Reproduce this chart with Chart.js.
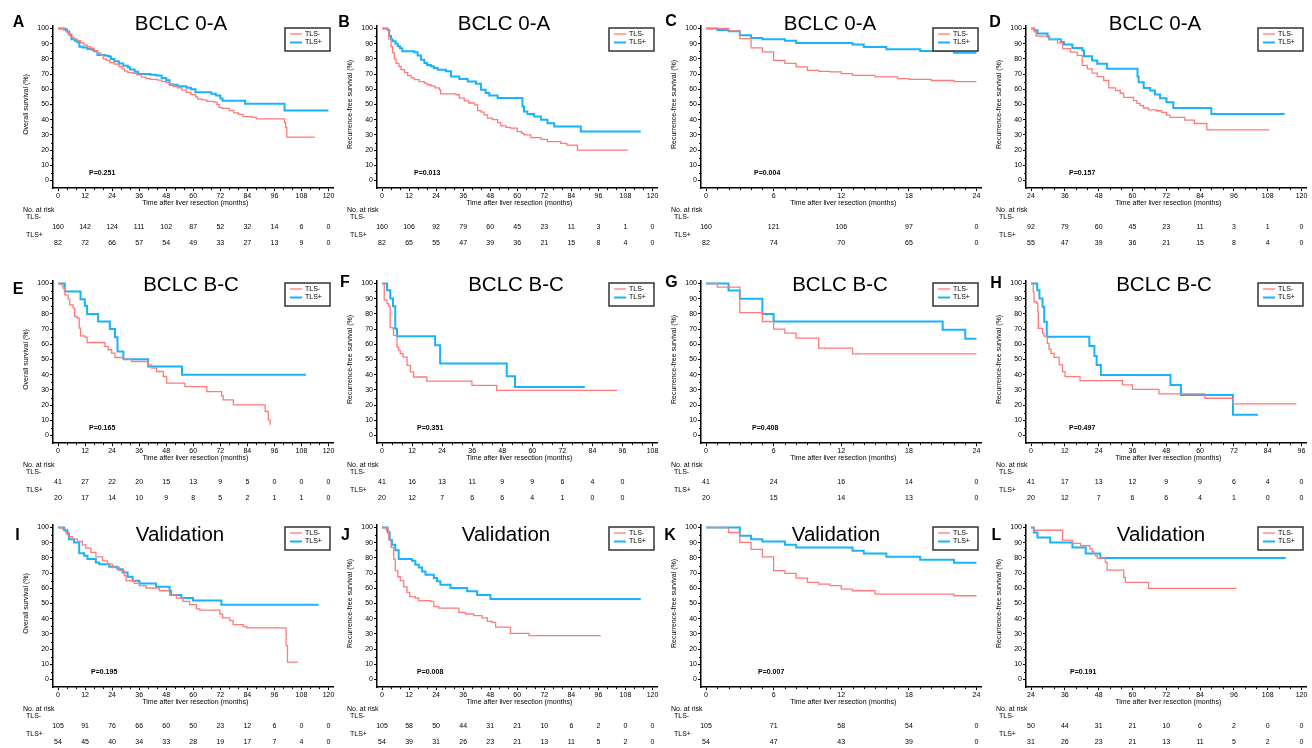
<!DOCTYPE html>
<html>
<head>
<meta charset="utf-8">
<script src="https://cdn.jsdelivr.net/npm/chart.js@4.4.1/dist/chart.umd.min.js"></script>
<style>
html, body { margin: 0; padding: 0; background: #fff; overflow: hidden; }
body { position: relative; width: 1312px; height: 748px; }
.panel { position: absolute; }
</style>
</head>
<body>
<script>
// ---- tick sets (months) ----
const ticks0to120 = [0, 12, 24, 36, 48, 60, 72, 84, 96, 108, 120];
const ticks0to108 = [0, 12, 24, 36, 48, 60, 72, 84, 96, 108];
const ticks0to96 = [0, 12, 24, 36, 48, 60, 72, 84, 96];
const ticks0to24 = [0, 6, 12, 18, 24];
const ticks24to120 = [24, 36, 48, 60, 72, 84, 96, 108, 120];
const yTicks = [0, 10, 20, 30, 40, 50, 60, 70, 80, 90, 100];

// ---- survival curves: [month, survival %] at each step ----
const aNeg = [[0,100],[2.5,99],[3.5,98],[4.5,96],[5.5,94.5],[7,93],[8.5,92],[10,90.5],[11.5,89],[13,88],[14.5,87],[16,85.5],[17.5,84],[19,82.5],[20,80],[21.5,79],[23,77.5],[25,76.5],[27,75],[28.5,73.5],[29.5,72],[31,71],[33,70.5],[35,69.5],[37,68],[39,67],[41,66.5],[44,66],[46,65],[48,64.5],[49.5,63.5],[51,62],[53,61],[55,59.5],[57,58],[59,56.5],[61,55],[62,53.5],[64,53],[66,52],[69,51.5],[70.5,50],[71.5,48],[73,47.5],[76,46],[78,44.5],[80,43.5],[82,42],[86,41.5],[88,40.5],[100.5,38],[101,35],[101.5,28.5],[114,28.5]];
const aPos = [[0,100],[3,99.5],[4,98],[5,96],[6,93],[7.5,92],[8.5,91],[9.5,88],[11,87.5],[13,86.5],[15,86],[16,85],[17.5,82.5],[21,82],[22.5,81.5],[23.5,80],[25,78.5],[27,77],[29,75.5],[31,74.5],[32,73],[34,71.5],[35.5,70],[41,69.5],[43.5,69],[46,67.5],[48,66],[49.5,63],[53,62],[57,61],[59,60],[61,58],[68,57],[70,56],[72,54],[73,52.5],[83,50.5],[100.5,46],[120,46]];
const bNeg = [[0,100],[2.5,99],[3,93],[4,88],[4.7,84],[5.5,80],[6.2,77],[7.5,75],[8.4,73],[10,71],[11.4,69],[13,67.5],[14.3,66.3],[16.5,65],[18.8,64],[20,63],[21.7,62.3],[23.5,61],[25.4,59.7],[26,57],[32.8,56.4],[34.3,54.2],[36.5,52.4],[38.5,51],[41,49.8],[42.4,46],[44,45],[45.3,43.2],[46.8,41],[49,40],[51.3,38.1],[52.7,36],[55,35],[57,34.4],[60,32.2],[62,31],[63,30],[66,28.2],[70.5,27.1],[73.4,25.6],[79.3,24.4],[82,23.3],[86.7,20],[109,20]];
const bPos = [[0,100],[2.5,99],[3.2,95],[4,93],[4.7,91.6],[6,90],[7,88.3],[8,87],[9,85],[14.3,84.4],[15.8,82.2],[17.3,79.5],[18.8,77.3],[20,76],[21.7,75.1],[23,74],[24.7,72.9],[28.4,71.8],[30.6,68.5],[34.3,66.7],[38,65.2],[41.7,63.6],[43.9,59.7],[46,57.5],[47.6,55.9],[51.3,54.2],[62.3,48.7],[63,45.4],[64.5,43.8],[67.5,42.1],[70.5,39.9],[73.4,37.7],[76.4,35.5],[88.2,32.2],[114.8,32.2]];
const cNeg = [[0,100],[2,98.5],[3,93.4],[4,87.2],[5,84.6],[6,79],[7,77],[8,74.7],[9,72.5],[10,71.8],[11,71.4],[12,70.3],[13,69.2],[15,68.2],[17,67],[18,66.5],[20,65.8],[22,65],[24,65]];
const cPos = [[0,100],[1,99],[2,98.2],[3,95.6],[4,93.8],[5,92.9],[7,91.9],[8,90.5],[13,89.4],[14,87.9],[16,86.3],[19,85.2],[22,84],[24,84]];
const dNeg = [[24,100],[25.2,97.8],[25.8,95],[30.5,92.7],[33.4,90.5],[35.2,86.8],[38,84.5],[40.4,82.3],[42.2,75.7],[44,73.5],[45.7,70.6],[47.5,68.4],[49.8,65.8],[51.6,61],[54,59.2],[55.7,57.4],[56.9,54.7],[60.4,52.5],[61.6,50.8],[62.7,49.2],[63.9,47.7],[65.7,46.4],[68.6,45.9],[70.4,44.8],[72.1,43],[73.3,41.5],[78.6,39.7],[82,37.5],[86.4,33.3],[108.5,33.3]];
const dPos = [[24,100],[25.2,98.9],[26.3,96.7],[29.9,94.5],[30.5,92.9],[34.6,91.2],[35.7,89.4],[38.7,87.2],[42.2,85.7],[42.8,81.7],[45.7,79],[47.5,76.8],[51,73.5],[61.8,68.4],[62.2,64.7],[64,60.9],[66.3,59.2],[68,56.5],[69.8,54.1],[72.1,51.4],[74.5,47.7],[88,43.7],[114,43.7]];
const eNeg = [[0,100],[1.5,99],[2.2,97],[3,92.5],[4.5,89.7],[5.2,86],[6.7,83.8],[7.4,78.3],[8.5,77.2],[9.4,70.6],[10,65.6],[11.9,64.7],[12.9,61.2],[20.8,58.6],[22.3,56.4],[23.8,54.2],[25.3,51.3],[29,50.2],[32.6,48.7],[40,46.5],[41.5,44.3],[43.7,42.1],[46.7,38.8],[48.2,34.4],[56.3,32.2],[66,28.9],[72.6,26.1],[73.3,23.5],[77.8,20.2],[91.9,15.8],[93.3,10.3],[94.1,7]];
const ePos = [[0,100],[3,94.7],[10,89.7],[11.9,85.3],[12.9,80],[17.8,75],[23,70],[25.3,64.7],[26.4,55.3],[29,50.2],[40,45.4],[55,39.9],[110,39.9]];
const fNeg = [[0,100],[0.9,89],[2,86.8],[2.7,85],[3.3,71],[4.4,70.3],[4.6,65.9],[6,58.2],[6.6,56],[7.3,53.8],[8.4,51.6],[10,46.2],[11.3,41.8],[12.6,38.5],[17.9,35.8],[35.9,33],[45.8,29.7],[93.9,29.7]];
const fPos = [[0,100],[2,95.6],[3.3,90.1],[4.4,85],[5.3,70.3],[6,65.3],[21.2,59.3],[23.2,47.3],[49.8,38.9],[53.1,31.9],[81,31.9]];
const gNeg = [[0,100],[1,97.6],[3,80.9],[5,75],[6,70],[7,67.3],[8,64],[10,57.5],[13,53.7],[24,53.7]];
const gPos = [[0,100],[2,95.4],[3,89.9],[5,80],[6,75],[21,69.5],[23,63.6],[24,63.6]];
const hNeg = [[0,100],[0.8,94.5],[1.1,88],[2,86.9],[2.4,81.4],[2.6,70.5],[4.1,67.2],[4.6,65.4],[5.8,60.6],[6.4,56.7],[7.1,54],[8.2,51.4],[10,46.4],[11.2,42],[12.1,38.7],[17.4,36.1],[32.5,33.3],[36,30.4],[45.4,27.4],[61.7,24.5],[71.8,20.8],[94.2,20.8]];
const hPos = [[0,100],[2.2,95.6],[3,90.2],[4.1,84.7],[4.7,74.8],[5.6,65],[20.7,58.9],[22.5,52.3],[23.3,46.4],[24.8,39.8],[49.5,33.3],[53.2,26.7],[71.7,13.6],[80.6,13.6]];
const iNeg = [[0,100],[1.9,98.9],[3.4,96.7],[4.9,93.9],[6.4,92.3],[8.6,90.8],[10.8,88.6],[12.3,86.4],[14.6,83.6],[16.8,80.7],[19.8,78.1],[22,75.9],[24.2,73.7],[27.2,71.6],[29.4,68.3],[30.2,65],[33.9,63.2],[36.1,61.7],[39.1,60.2],[45,58.4],[49.5,55.6],[52.5,53.6],[55.4,51.4],[58.4,49.2],[61.4,46.4],[62.9,45.7],[71.8,43.1],[73,40.5],[76.2,38.7],[77.7,36.1],[82.2,34.8],[83.7,33.9],[101.2,22.3],[101.8,11.4],[106.4,11.4]];
const iPos = [[0,100],[2.7,98.2],[4.2,95.6],[4.9,92.3],[7.1,90.2],[9.4,83],[11.6,81.4],[13.1,79.2],[16.8,77],[18.3,75.9],[22.7,74.2],[26.4,72.6],[28.7,70.4],[30.9,67.6],[33.1,65],[36.1,63.2],[43.5,61],[49.5,58.4],[50.2,55.6],[54.7,53.6],[59.9,51.9],[72.5,49.2],[115.6,49.2]];
const jNeg = [[0,100],[1.9,98.2],[3,92.3],[4,86.9],[5.2,79.2],[5.9,71.6],[7,67.6],[8.1,65],[9.6,61],[11.1,57.3],[12.3,54.5],[14.8,53.6],[16.3,51.9],[21.5,51.4],[23,47.9],[25.2,47],[34.1,44.2],[37,43.1],[40.7,42],[44.4,40.5],[46.7,38.3],[48.9,37.6],[50.4,34.4],[57,30.4],[65.2,28.9],[97,28.9]];
const jPos = [[0,100],[2.5,96.7],[3.4,91.7],[4.4,88.6],[5.9,85.1],[7.4,79.2],[13.3,78.1],[14.8,75.5],[16.3,73.7],[17.8,71.1],[19.3,68.9],[23,66.7],[24.4,64.6],[25.9,62.4],[30.4,60.2],[37.8,58],[42.2,55.6],[48.1,53],[114.8,53]];
const kNeg = [[0,100],[2,96.7],[3,90.2],[4,85.6],[5,80.7],[6,71.6],[7,69.8],[8,66.7],[9,63.9],[10,62.8],[11,61.7],[12,59.5],[13,58.4],[15,56.2],[22,55.1],[24,55.1]];
const kPos = [[0,100],[3,94.5],[4,92.3],[5,90.8],[7,88.6],[8,86.9],[13,84.7],[14,82.9],[16,80.7],[19,78.8],[22,76.8],[24,76.8]];
const lNeg = [[24,100],[25,98.2],[35.2,91.7],[38.7,89.5],[41.6,88],[44.9,85.8],[45.7,84.2],[46.3,82.9],[46.9,81.4],[47.5,79.9],[50.4,77],[51,72],[56.9,67.2],[57.5,63.9],[65.7,60],[97,60]];
const lPos = [[24,100],[25,96.7],[26.3,93.4],[30.8,90.2],[38.7,86.9],[43.4,82.9],[48.6,79.9],[114.4,79.9]];

// ---- numbers at risk under each x tick ----
const aRiskNeg = [160, 142, 124, 111, 102, 87, 52, 32, 14, 6, 0];
const aRiskPos = [82, 72, 66, 57, 54, 49, 33, 27, 13, 9, 0];
const bRiskNeg = [160, 106, 92, 79, 60, 45, 23, 11, 3, 1, 0];
const bRiskPos = [82, 65, 55, 47, 39, 36, 21, 15, 8, 4, 0];
const cRiskNeg = [160, 121, 106, 97, 0];
const cRiskPos = [82, 74, 70, 65, 0];
const dRiskNeg = [92, 79, 60, 45, 23, 11, 3, 1, 0];
const dRiskPos = [55, 47, 39, 36, 21, 15, 8, 4, 0];
const eRiskNeg = [41, 27, 22, 20, 15, 13, 9, 5, 0, 0, 0];
const eRiskPos = [20, 17, 14, 10, 9, 8, 5, 2, 1, 1, 0];
const fRiskNeg = [41, 16, 13, 11, 9, 9, 6, 4, 0];
const fRiskPos = [20, 12, 7, 6, 6, 4, 1, 0, 0];
const gRiskNeg = [41, 24, 16, 14, 0];
const gRiskPos = [20, 15, 14, 13, 0];
const hRiskNeg = [41, 17, 13, 12, 9, 9, 6, 4, 0];
const hRiskPos = [20, 12, 7, 6, 6, 4, 1, 0, 0];
const iRiskNeg = [105, 91, 76, 66, 60, 50, 23, 12, 6, 0, 0];
const iRiskPos = [54, 45, 40, 34, 33, 28, 19, 17, 7, 4, 0];
const jRiskNeg = [105, 58, 50, 44, 31, 21, 10, 6, 2, 0, 0];
const jRiskPos = [54, 39, 31, 26, 23, 21, 13, 11, 5, 2, 0];
const kRiskNeg = [105, 71, 58, 54, 0];
const kRiskPos = [54, 47, 43, 39, 0];
const lRiskNeg = [50, 44, 31, 21, 10, 6, 2, 0, 0];
const lRiskPos = [31, 26, 23, 21, 13, 11, 5, 2, 0];

const OS = 'Overall survival (%)';
const RFS = 'Recurrence-free survival (%)';
const FONT = '"Liberation Sans", Arial, sans-serif';
const RED = '#ff7b7b';
const BLUE = '#17b4fb';

// canvas geometry shared by all panels
const W = 335, H = 250;
const PLOT_X0 = 58, PLOT_W = 270.5;     // first / last tick span
const Y100 = 28.5, Y0 = 180.5;          // pixel rows of 100% and 0%
const YMIN = -5, YMAX = 102;
const colLeft = [0, 324, 648, 973];
const rowTop = [0, 255, 499];

const panels = [
  { tag: 'A', col: 0, row: 0, title: 'BCLC 0-A', yTitle: OS,  ticks: ticks0to120, neg: aNeg, pos: aPos, rNeg: aRiskNeg, rPos: aRiskPos, p: 'P=0.251', tagAt: [18.5, 22.5], titleAt: [181, 24], pX: 89 },
  { tag: 'B', col: 1, row: 0, title: 'BCLC 0-A', yTitle: RFS, ticks: ticks0to120, neg: bNeg, pos: bPos, rNeg: bRiskNeg, rPos: bRiskPos, p: 'P=0.013', tagAt: [20, 22.5], titleAt: [180, 24], pX: 90 },
  { tag: 'C', col: 2, row: 0, title: 'BCLC 0-A', yTitle: RFS, ticks: ticks0to24,  neg: cNeg, pos: cPos, rNeg: cRiskNeg, rPos: cRiskPos, p: 'P=0.004', tagAt: [23, 22], titleAt: [182, 24], pX: 106 },
  { tag: 'D', col: 3, row: 0, title: 'BCLC 0-A', yTitle: RFS, ticks: ticks24to120, neg: dNeg, pos: dPos, rNeg: dRiskNeg, rPos: dRiskPos, p: 'P=0.157', tagAt: [22, 22.5], titleAt: [182, 24], pX: 96 },
  { tag: 'E', col: 0, row: 1, title: 'BCLC B-C', yTitle: OS,  ticks: ticks0to120, neg: eNeg, pos: ePos, rNeg: eRiskNeg, rPos: eRiskPos, p: 'P=0.165', tagAt: [18, 35], titleAt: [191, 30], pX: 89 },
  { tag: 'F', col: 1, row: 1, title: 'BCLC B-C', yTitle: RFS, ticks: ticks0to108, neg: fNeg, pos: fPos, rNeg: fRiskNeg, rPos: fRiskPos, p: 'P=0.351', tagAt: [21, 28], titleAt: [192, 30], pX: 93 },
  { tag: 'G', col: 2, row: 1, title: 'BCLC B-C', yTitle: RFS, ticks: ticks0to24,  neg: gNeg, pos: gPos, rNeg: gRiskNeg, rPos: gRiskPos, p: 'P=0.408', tagAt: [23.5, 28], titleAt: [192, 30], pX: 104 },
  { tag: 'H', col: 3, row: 1, title: 'BCLC B-C', yTitle: RFS, ticks: ticks0to96,  neg: hNeg, pos: hPos, rNeg: hRiskNeg, rPos: hRiskPos, p: 'P=0.497', tagAt: [23, 28.5], titleAt: [191, 30], pX: 96 },
  { tag: 'I', col: 0, row: 2, title: 'Validation', yTitle: OS,  ticks: ticks0to120, neg: iNeg, pos: iPos, rNeg: iRiskNeg, rPos: iRiskPos, p: 'P=0.195', tagAt: [17.5, 37], titleAt: [180, 36], pX: 91 },
  { tag: 'J', col: 1, row: 2, title: 'Validation', yTitle: RFS, ticks: ticks0to120, neg: jNeg, pos: jPos, rNeg: jRiskNeg, rPos: jRiskPos, p: 'P=0.008', tagAt: [21.5, 37], titleAt: [182, 36], pX: 93 },
  { tag: 'K', col: 2, row: 2, title: 'Validation', yTitle: RFS, ticks: ticks0to24,  neg: kNeg, pos: kPos, rNeg: kRiskNeg, rPos: kRiskPos, p: 'P=0.007', tagAt: [22, 37], titleAt: [188, 36], pX: 110 },
  { tag: 'L', col: 3, row: 2, title: 'Validation', yTitle: RFS, ticks: ticks24to120, neg: lNeg, pos: lPos, rNeg: lRiskNeg, rPos: lRiskPos, p: 'P=0.191', tagAt: [23.5, 37], titleAt: [188, 36], pX: 97 }
];

const toXY = arr => arr.map(d => ({ x: d[0], y: d[1] }));

// titles, legend box, axis captions, p value and the at-risk table
function decorPlugin(p) {
  return {
    id: 'kmDecor' + p.tag,
    afterDraw(chart) {
      const ctx = chart.ctx;
      const xs = chart.scales.x, ys = chart.scales.y, area = chart.chartArea;
      const t = p.ticks;
      const x0 = xs.getPixelForValue(t[0]);
      const xN = xs.getPixelForValue(t[t.length - 1]);
      const y0 = ys.getPixelForValue(0);
      const y100 = ys.getPixelForValue(100);
      ctx.save();
      ctx.fillStyle = '#000';
      ctx.strokeStyle = '#000';

      // minor ticks
      ctx.lineWidth = 1;
      ctx.beginPath();
      const sub = (t[1] - t[0]) / (t[1] - t[0] === 6 ? 6 : 3);
      for (let v = t[0] + sub; v < t[t.length - 1]; v += sub) {
        if (t.indexOf(v) >= 0) continue;
        const px = Math.round(xs.getPixelForValue(v)) + 0.5;
        ctx.moveTo(px, area.bottom);
        ctx.lineTo(px, area.bottom + 2);
      }
      for (let v = 5; v < 100; v += 10) {
        const py = Math.round(ys.getPixelForValue(v)) + 0.5;
        ctx.moveTo(area.left - 2, py);
        ctx.lineTo(area.left, py);
      }
      ctx.stroke();

      // panel letter and title
      ctx.textAlign = 'center';
      ctx.textBaseline = 'middle';
      ctx.font = 'bold 16px ' + FONT;
      ctx.fillText(p.tag, p.tagAt[0], p.tagAt[1]);
      ctx.font = '20.5px ' + FONT;
      ctx.fillText(p.title, p.titleAt[0], p.titleAt[1]);

      // legend
      const bw = 45, bh = 23;
      const bx = xN + 1.5 - bw, by = y100 - 0.5;
      ctx.fillStyle = '#fff';
      ctx.fillRect(bx, by, bw, bh);
      ctx.strokeStyle = '#333';
      ctx.lineWidth = 1.5;
      ctx.strokeRect(bx, by, bw, bh);
      chart.data.datasets.forEach((ds, i) => {
        const ly = by + 6 + i * 8.5;
        ctx.strokeStyle = ds.borderColor;
        ctx.lineWidth = ds.borderWidth;
        ctx.beginPath();
        ctx.moveTo(bx + 5, ly);
        ctx.lineTo(bx + 17, ly);
        ctx.stroke();
        ctx.fillStyle = '#000';
        ctx.font = '7px ' + FONT;
        ctx.textAlign = 'left';
        ctx.fillText(ds.label, bx + 20, ly);
      });

      // p value
      ctx.font = 'bold 7px ' + FONT;
      ctx.textAlign = 'left';
      ctx.fillText(p.p, p.pX, y0 - 7);

      // axis captions
      ctx.font = '7px ' + FONT;
      ctx.textAlign = 'center';
      ctx.fillText('Time after liver resection (months)', (x0 + xN) / 2 + 2, y0 + 22.8);
      ctx.save();
      ctx.translate(x0 - 32, (y0 + y100) / 2);
      ctx.rotate(-Math.PI / 2);
      ctx.fillText(p.yTitle, 0, 0);
      ctx.restore();

      // numbers at risk
      ctx.textAlign = 'left';
      ctx.fillText('No. at risk', x0 - 35, y0 + 29.5);
      ctx.fillText('TLS-', x0 - 32, y0 + 37);
      ctx.fillText('TLS+', x0 - 32, y0 + 54.5);
      ctx.textAlign = 'center';
      p.rNeg.forEach((n, i) => ctx.fillText(String(n), xs.getPixelForValue(t[i]), y0 + 46.5));
      p.rPos.forEach((n, i) => ctx.fillText(String(n), xs.getPixelForValue(t[i]), y0 + 62.6));
      ctx.restore();
    }
  };
}

panels.forEach(p => {
  const wrap = document.createElement('div');
  wrap.className = 'panel';
  wrap.style.left = colLeft[p.col] + 'px';
  wrap.style.top = rowTop[p.row] + 'px';
  const canvas = document.createElement('canvas');
  canvas.width = W;
  canvas.height = H;
  canvas.style.width = W + 'px';
  canvas.style.height = H + 'px';
  wrap.appendChild(canvas);
  document.body.appendChild(wrap);

  const first = p.ticks[0], last = p.ticks[p.ticks.length - 1];
  const perUnit = PLOT_W / (last - first);
  const yPer = (Y0 - Y100) / 100;
  const areaTop = Y100 - (YMAX - 100) * yPer;
  const areaBottom = Y0 - YMIN * yPer;
  const yAxisW = 30, xAxisH = 12;

  const axisFont = { size: 7, family: FONT };
  new Chart(canvas, {
    type: 'line',
    data: {
      datasets: [
        { label: 'TLS-', data: toXY(p.neg), borderColor: RED, borderWidth: 1.3, stepped: true, pointRadius: 0, fill: false },
        { label: 'TLS+', data: toXY(p.pos), borderColor: BLUE, borderWidth: 2, stepped: true, pointRadius: 0, fill: false }
      ]
    },
    options: {
      responsive: false,
      animation: false,
      devicePixelRatio: 1,
      layout: {
        autoPadding: false,
        padding: {
          left: PLOT_X0 - 5 - yAxisW,
          right: W - (PLOT_X0 + PLOT_W + 5),
          top: areaTop,
          bottom: H - areaBottom - xAxisH
        }
      },
      plugins: { legend: { display: false }, tooltip: { enabled: false }, title: { display: false } },
      scales: {
        x: {
          type: 'linear',
          min: first - 5 / perUnit,
          max: last + 5 / perUnit,
          afterFit: s => { s.height = xAxisH; },
          afterBuildTicks: s => { s.ticks = p.ticks.map(v => ({ value: v })); },
          grid: { drawOnChartArea: false, drawTicks: true, tickLength: 3, color: '#000', lineWidth: 1 },
          border: { display: true, color: '#000', width: 1.5 },
          ticks: { font: axisFont, color: '#000', padding: 0.5, maxRotation: 0, autoSkip: false }
        },
        y: {
          min: YMIN,
          max: YMAX,
          afterFit: s => { s.width = yAxisW; },
          afterBuildTicks: s => { s.ticks = yTicks.map(v => ({ value: v })); },
          grid: { drawOnChartArea: false, drawTicks: true, tickLength: 3, color: '#000', lineWidth: 1 },
          border: { display: true, color: '#000', width: 1.5 },
          ticks: { font: axisFont, color: '#000', padding: 1 }
        }
      }
    },
    plugins: [decorPlugin(p)]
  });
});
</script>
</body>
</html>
